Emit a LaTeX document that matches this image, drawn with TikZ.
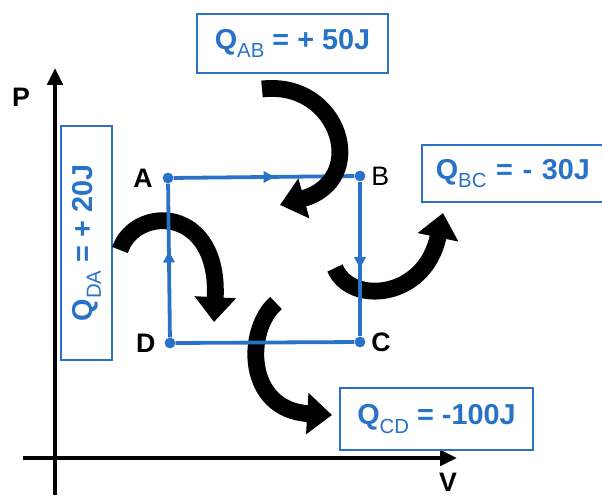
\documentclass[tikz,border=0pt]{standalone}
\usepackage{fontspec}
\setmainfont{Liberation Sans}
\usetikzlibrary{arrows.meta,positioning,decorations.markings}
\definecolor{cycblue}{RGB}{40,115,200}
\newcommand{\qsub}[1]{\raisebox{-0.3em}{\fontsize{14.5}{15}\selectfont\mdseries #1}}

\begin{document}
\begin{tikzpicture}[
    x=0.025cm, y=-0.025cm,
    >=Latex,
    axis/.style={line width=2.8pt, -{Triangle[length=0.42cm,width=0.38cm]}},
    cycleline/.style={draw=cycblue, line width=2.7pt},
    midarrow/.style={postaction={decorate}, decoration={markings,
        mark=at position 0.56 with {\arrow{Triangle[length=0.28cm,width=0.28cm]}}}},
    dot/.style={circle, fill=cycblue, inner sep=0pt, minimum size=0.27cm},
    ptlabel/.style={font=\bfseries\fontsize{19}{20}\selectfont},
    heat/.style={line width=0.42cm, -{Triangle[length=0.62cm,width=1.0cm]}},
    qbox/.style={draw=cycblue, line width=1.1pt, text=cycblue, inner sep=0pt,
        font=\bfseries\fontsize{20.5}{22}\selectfont}
]
\useasboundingbox (0,0) rectangle (602,495);

% axes
\coordinate (pbot) at (55,495);
\coordinate (ptop) at (55,68);
\coordinate (vleft) at (23,458);
\coordinate (vright) at (457,458);
\draw[axis] (pbot) -- (ptop);
\draw[axis] (vleft) -- (vright);
\node[ptlabel] (plab) at (21,97) {P};
\node[ptlabel, inner sep=0pt] (vlab) at (448,482) {V};

% heat boxes
\node[qbox, minimum width=4.775cm, minimum height=1.475cm] (qab) at (292.5,43.5) {Q\qsub{AB} = + 50J};
\node[qbox, anchor=west, minimum height=1.425cm, text width=4.6cm, inner xsep=0.35cm, align=left] (qbc) at (421,173.5) {Q\qsub{BC} = - 30J};
\node[qbox, minimum width=4.825cm, minimum height=1.55cm] (qcd) at (436.5,419) {Q\qsub{CD} = -100J};
\node[qbox, rotate=90, minimum width=5.85cm, minimum height=1.275cm] (qda) at (86.5,243) {Q\qsub{DA} = + 20J};

% states
\node[dot] (A) at (168,178) {};
\node[dot] (B) at (360,176) {};
\node[dot] (C) at (360,342) {};
\node[dot] (D) at (170,343) {};
\node[ptlabel, left=0.12cm of A] (alab) {A};
\node[ptlabel, font=\fontsize{19}{20}\selectfont, right=0.02cm of B] (blab) {B};
\node[ptlabel, right=0.02cm of C] (clab) {C};
\node[ptlabel, left=0.1cm of D] (dlab) {D};

% heat arrows
\draw[heat] (120,250) .. controls (135,205) and (220,205) .. (214,322);
\draw[heat] (335,268) .. controls (350,305) and (425,300) .. (443,213);
\draw[heat] (276,303) .. controls (245,330) and (245,410) .. (332,415);

% cycle
\draw[cycleline, midarrow] (A) -- (B);
\draw[cycleline, midarrow] (B) -- (C);
\draw[cycleline] (C) -- (D);
\draw[cycleline, midarrow] (D) -- (A);

\draw[heat] (262,89) .. controls (340,80) and (370,180) .. (280,205);
\end{tikzpicture}
\end{document}
